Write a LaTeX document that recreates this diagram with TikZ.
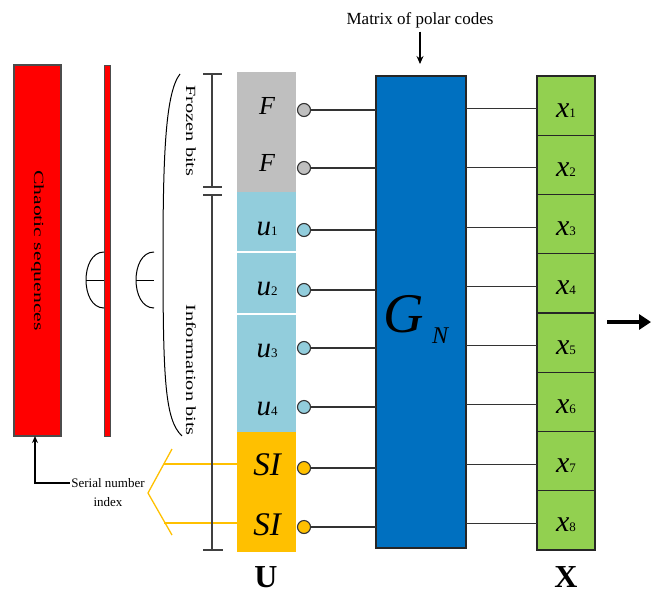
\documentclass[tikz,border=0pt]{standalone}
\usepackage{fontspec}
\setmainfont{Liberation Serif}
\usetikzlibrary{arrows.meta}
\definecolor{fgray}{HTML}{BFBFBF}
\definecolor{ublue}{HTML}{92CDDC}
\definecolor{sorange}{HTML}{FFC000}
\definecolor{gblue}{HTML}{0070C0}
\definecolor{xgreen}{HTML}{92D050}
\newcommand\myfs[1]{\fontsize{#1}{#1}\selectfont}
\begin{document}
\begin{tikzpicture}[x=1pt,y=-1pt,line width=1pt,
  blk/.style={anchor=north west,inner sep=0,outer sep=0},
  pin/.style={circle,draw=black!80,line width=1.1pt,minimum size=13,inner sep=0},
  wire/.style={draw=black!80,line width=1.1pt},
  rot/.style={rotate=-90,inner sep=0},
  sym/.style={anchor=base,inner sep=0},
  xcell/.style={blk,draw=black!85,line width=1.2pt,fill=xgreen,minimum width=58,minimum height=59.25},
  dimln/.style={draw=black!75,line width=1.3pt},
  orl/.style={draw=sorange,line width=1.3pt}]
\useasboundingbox (0,0) rectangle (652,597);
% chaotic sequences
\node[blk,draw=black!70,line width=1.2pt,fill=red,minimum width=47,minimum height=371] (chaos) at (14,65) {};
\node[rot] at (chaos.center) {\scalebox{1.55}[1]{\myfs{14}Chaotic sequences}};
\node[blk,draw=black!70,line width=1pt,fill=red,minimum width=6,minimum height=371] (bar) at (104,65) {};
% arcs
\draw (104,252) .. controls (80,252) and (80,308) .. (104,308);
\draw (86,280) -- (104,280);
\draw (154,252) .. controls (130,252) and (130,308) .. (154,308);
\draw (136,280) -- (154,280);
% long bracket
\draw (180,74) .. controls (166,92) and (163,150) .. (163,255) .. controls (163,380) and (165,420) .. (182,436);
\node[rot] at (191,131) {\scalebox{1.45}[1]{\myfs{14}Frozen bits}};
\node[rot] at (191,370) {\scalebox{1.45}[1]{\myfs{14}Information bits}};
% U column
\node[blk,fill=fgray,minimum width=59,minimum height=120] (fz) at (237,72) {};
\node[blk,fill=ublue,minimum width=59,minimum height=59] (ub1) at (237,192) {};
\node[blk,fill=ublue,minimum width=59,minimum height=60] (ub2) at (237,253) {};
\node[blk,fill=ublue,minimum width=59,minimum height=117] (ub3) at (237,315) {};
\node[blk,fill=sorange,minimum width=59,minimum height=120] (si) at (237,432) {};
\node[sym] at (267,114) {\myfs{26}\itshape F};
\node[sym] at (267,171) {\myfs{26}\itshape F};
\node[sym] at (267,235) {\myfs{29}\itshape u\myfs{13}\upshape 1};
\node[sym] at (267,295) {\myfs{29}\itshape u\myfs{13}\upshape 2};
\node[sym] at (267,357) {\myfs{29}\itshape u\myfs{13}\upshape 3};
\node[sym] at (267,415) {\myfs{29}\itshape u\myfs{13}\upshape 4};
\node[sym] at (267,475) {\myfs{33}\itshape SI};
\node[sym] at (267,535) {\myfs{33}\itshape SI};
\node[font=\bfseries\myfs{32}] (U) at (266,577) {U};
% G_N block
\node[blk,draw=black!85,line width=1.2pt,fill=gblue,minimum width=90,minimum height=472] (G) at (376,76) {};
\node[sym] at (404,332) {\myfs{56}\itshape G};
\node[sym] at (440,343) {\myfs{24}\itshape N};
% pins and wires
\foreach \i/\y/\c in {1/110/fgray,2/168/fgray,3/230/ublue,4/290/ublue,5/348/ublue,6/407/ublue,7/468/sorange,8/527/sorange}{
  \node[pin,fill=\c] (p\i) at (304,\y) {};
  \draw[wire] (p\i.east) -- (p\i.east -| G.west);
}
% X column
\foreach \i in {1,...,8}{
  \node[xcell] (x\i) at (537,{76+(\i-1)*59.25}) {};
  \node[anchor=base,inner sep=0] at ([yshift=-11.5pt]x\i.center) {\myfs{30}\itshape x\myfs{13}\upshape \i};
  \draw[wire] ([yshift=-3pt]x\i.west) -- ([yshift=-3pt]x\i.west -| G.east);
}
\node[font=\bfseries\myfs{32}] (X) at (566,577) {X};
% matrix label
\node (mtx) at (420,20) {\myfs{17}Matrix of polar codes};
\coordinate (mtip) at (420,64);
\draw[line width=1.2pt,-{Stealth[length=8pt,width=7pt]}] (mtx.south) -- (mtip);
% output arrow
\coordinate (oa) at (607,322);
\coordinate (ob) at (651,322);
\draw[line width=4pt,-{Triangle[length=12pt,width=15pt]}] (oa) -- (ob);
% serial number index
\node[inner sep=1pt] (sn1) at (108,483) {\myfs{13}Serial number};
\node[inner sep=1pt] (sn2) at (108,502) {\myfs{13}index};
\draw[line width=1.5pt,-{Stealth[length=7pt,width=6pt]}] (sn1.west) -| ([xshift=-2.5pt]chaos.south);
% orange bracket
\draw[orl] (172,449) -- (148,493) -- (172,535);
\draw[orl] (164,464) -- (si.west |- 0,464);
\draw[orl] (164,523) -- (si.west |- 0,523);
% dimension line
\draw[dimln] (203,74) -- (222,74);
\draw[dimln] (212,74) -- (212,187);
\draw[dimln] (203,187) -- (222,187);
\draw[dimln] (203,195) -- (222,195);
\draw[dimln] (212,195) -- (212,550);
\draw[dimln] (203,550) -- (223,550);
\end{tikzpicture}
\end{document}
